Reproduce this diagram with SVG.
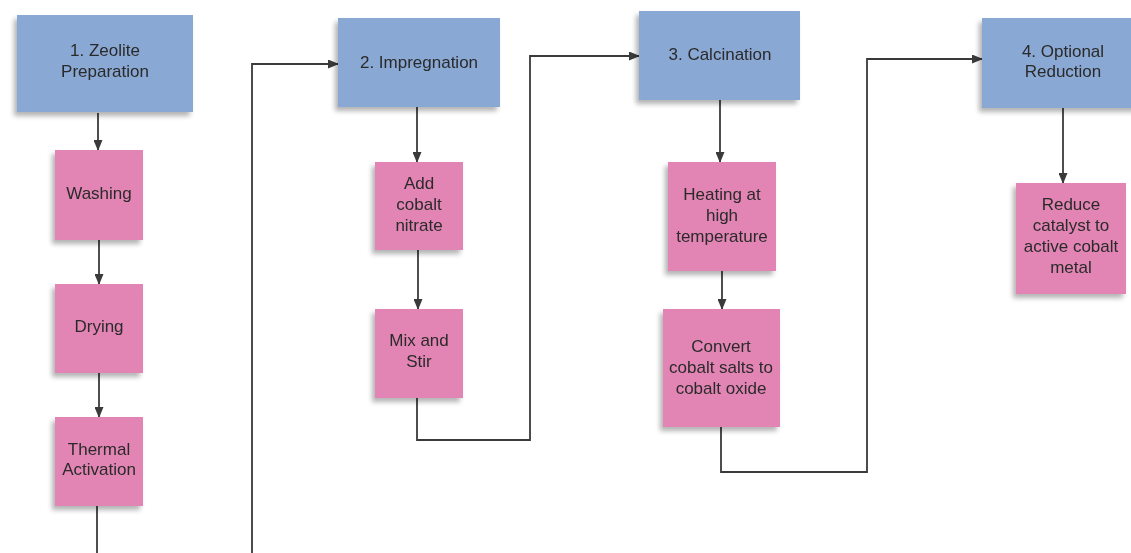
<svg xmlns="http://www.w3.org/2000/svg" width="1131" height="553" viewBox="0 0 1131 553">
<style>
.blue{fill:#8aa8d4}
.pink{fill:#e385b4}
text{font-family:"Liberation Sans",Arial,sans-serif;font-size:17px;fill:#2a2a2a;text-anchor:middle}
.ln{fill:none;stroke:#3a3a3a;stroke-width:1.8}
</style>
<defs>
<filter id="sh" x="-20%" y="-20%" width="140%" height="140%">
<feGaussianBlur in="SourceAlpha" stdDeviation="2.5"/>
<feOffset dx="-3" dy="4" result="b"/>
<feComponentTransfer><feFuncA type="linear" slope="0.3"/></feComponentTransfer>
<feMerge><feMergeNode/><feMergeNode in="SourceGraphic"/></feMerge>
</filter>
<marker id="ah" markerWidth="11" markerHeight="9" refX="10" refY="4.5" orient="auto" markerUnits="userSpaceOnUse">
<path d="M0,0 L11,4.5 L0,9 z" fill="#3a3a3a"/>
</marker>
</defs>
<rect width="1131" height="553" fill="#ffffff"/>
<g id="connectors">
<line class="ln" x1="98" y1="113" x2="98" y2="150" marker-end="url(#ah)"/>
<line class="ln" x1="99" y1="240" x2="99" y2="284" marker-end="url(#ah)"/>
<line class="ln" x1="99" y1="373" x2="99" y2="417" marker-end="url(#ah)"/>
<polyline class="ln" points="97,506 97,553"/>
<polyline class="ln" points="252,553 252,64 338,64" marker-end="url(#ah)"/>
<line class="ln" x1="417" y1="107" x2="417" y2="162" marker-end="url(#ah)"/>
<line class="ln" x1="418" y1="250" x2="418" y2="309" marker-end="url(#ah)"/>
<polyline class="ln" points="417,398 417,440 530,440 530,56 639,56" marker-end="url(#ah)"/>
<line class="ln" x1="720" y1="100" x2="720" y2="162" marker-end="url(#ah)"/>
<line class="ln" x1="722" y1="271" x2="722" y2="309" marker-end="url(#ah)"/>
<polyline class="ln" points="721,427 721,472 867,472 867,59 982,59" marker-end="url(#ah)"/>
<line class="ln" x1="1063" y1="108" x2="1063" y2="183" marker-end="url(#ah)"/>
</g>
<g id="n1" filter="url(#sh)"><rect class="blue" x="17" y="15" width="176" height="97"/><text x="105" y="56">1. Zeolite</text><text x="105" y="77">Preparation</text></g>
<g id="washing" filter="url(#sh)"><rect class="pink" x="55" y="150" width="88" height="90"/><text x="99" y="199">Washing</text></g>
<g id="drying" filter="url(#sh)"><rect class="pink" x="55" y="284" width="88" height="89"/><text x="99" y="332">Drying</text></g>
<g id="thermal" filter="url(#sh)"><rect class="pink" x="55" y="417" width="88" height="89"/><text x="99" y="455">Thermal</text><text x="99" y="475">Activation</text></g>
<g id="n2" filter="url(#sh)"><rect class="blue" x="338" y="18" width="162" height="89"/><text x="419" y="68">2. Impregnation</text></g>
<g id="add" filter="url(#sh)"><rect class="pink" x="375" y="162" width="88" height="88"/><text x="419" y="189">Add</text><text x="419" y="210">cobalt</text><text x="419" y="231">nitrate</text></g>
<g id="mix" filter="url(#sh)"><rect class="pink" x="375" y="309" width="88" height="89"/><text x="419" y="346">Mix and</text><text x="419" y="367">Stir</text></g>
<g id="n3" filter="url(#sh)"><rect class="blue" x="639" y="11" width="161" height="89"/><text x="720" y="60">3. Calcination</text></g>
<g id="heating" filter="url(#sh)"><rect class="pink" x="668" y="162" width="108" height="109"/><text x="722" y="200">Heating at</text><text x="722" y="221">high</text><text x="722" y="242">temperature</text></g>
<g id="convert" filter="url(#sh)"><rect class="pink" x="663" y="309" width="117" height="118"/><text x="721" y="352">Convert</text><text x="721" y="373">cobalt salts to</text><text x="721" y="394">cobalt oxide</text></g>
<g id="n4" filter="url(#sh)"><rect class="blue" x="982" y="18" width="162" height="90"/><text x="1063" y="57">4. Optional</text><text x="1063" y="77">Reduction</text></g>
<g id="reduce" filter="url(#sh)"><rect class="pink" x="1016" y="183" width="110" height="111"/><text x="1071" y="210">Reduce</text><text x="1071" y="231">catalyst to</text><text x="1071" y="252">active cobalt</text><text x="1071" y="273">metal</text></g>
</svg>
